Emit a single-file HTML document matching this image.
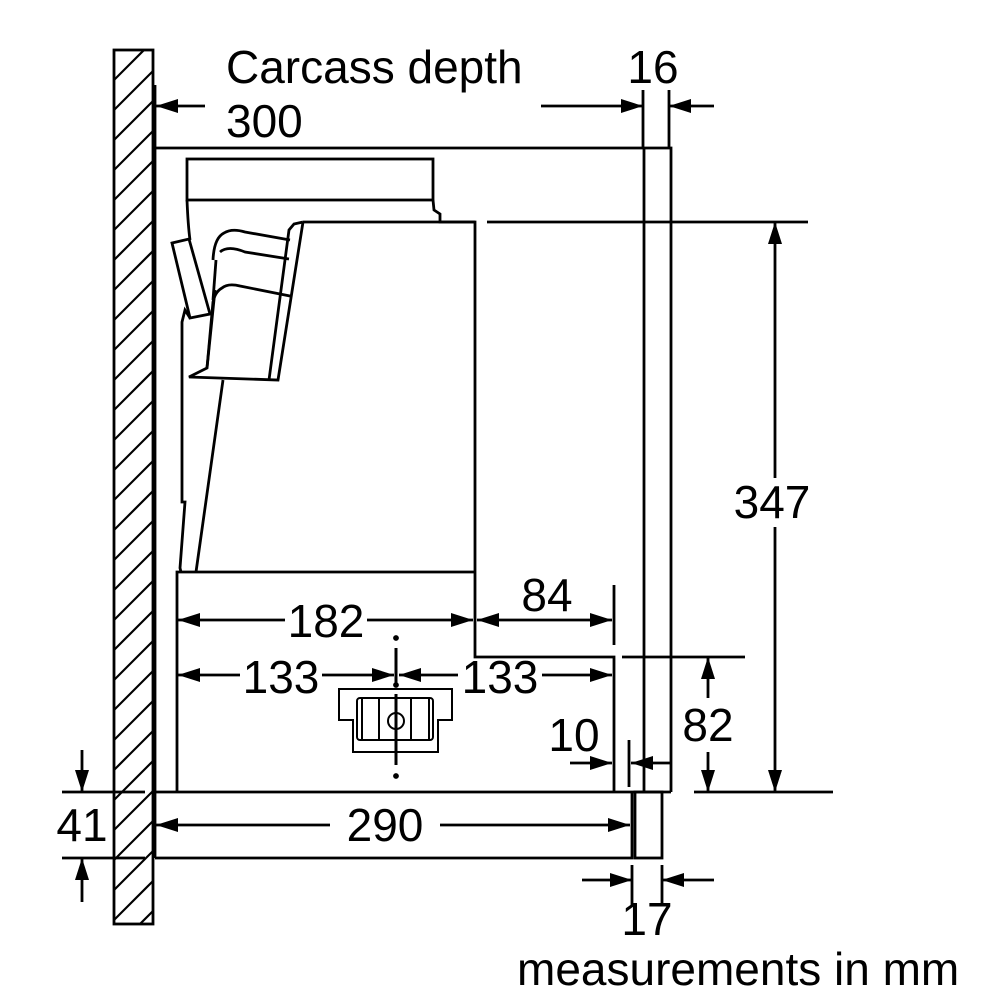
<!DOCTYPE html>
<html><head><meta charset="utf-8"><style>
html,body{margin:0;padding:0;background:#fff}
svg{display:block}
text{font-family:"Liberation Sans",sans-serif;fill:#000}
</style></head><body>
<svg width="1000" height="1000" viewBox="0 0 1000 1000" xmlns="http://www.w3.org/2000/svg">
<defs>
<marker id="a" viewBox="0 0 22 14" refX="22" refY="7" markerWidth="22" markerHeight="14" markerUnits="userSpaceOnUse" orient="auto"><path d="M0,0 L22,7 L0,14 Z" fill="#000"/></marker>
<clipPath id="wc"><rect x="114" y="50" width="39" height="874"/></clipPath>
</defs>
<g stroke="#000" fill="none" stroke-width="2.8">
<g clip-path="url(#wc)" stroke-width="2.2">
<path d="M114,80 l60,-60 M114,110 l60,-60 M114,140 l60,-60 M114,170 l60,-60 M114,200 l60,-60 M114,230 l60,-60 M114,260 l60,-60 M114,290 l60,-60 M114,320 l60,-60 M114,350 l60,-60 M114,380 l60,-60 M114,410 l60,-60 M114,440 l60,-60 M114,470 l60,-60 M114,500 l60,-60 M114,530 l60,-60 M114,560 l60,-60 M114,590 l60,-60 M114,620 l60,-60 M114,650 l60,-60 M114,680 l60,-60 M114,710 l60,-60 M114,740 l60,-60 M114,770 l60,-60 M114,800 l60,-60 M114,830 l60,-60 M114,860 l60,-60 M114,890 l60,-60 M114,920 l60,-60 M114,950 l60,-60"/>
</g>
<rect x="114" y="50" width="39" height="874"/>
<path d="M155,85 V858"/>
<path d="M155,148 H671 V792"/>
<path d="M644,148 V792"/>
<path d="M155,792 H671"/>
<path d="M155,858 H632 V792"/>
<rect x="635" y="792" width="27" height="66"/>
<rect x="187" y="159" width="246" height="41"/>
<path d="M433,200 L434,210 L440,214 L440,222 L475,222"/>
<path d="M303,222 H475 V572"/>
<path d="M177,792 V572 H475"/>
<path d="M475,572 V657 H614 V792"/>
<path d="M187,200 Q188,225 190,240"/>
<path d="M172,243 L189,239 L210,314 L190,318 Z"/>
<path d="M190,318 L185,310 L182,322 L182,502 L185,502 L180,568 L181,572"/>
<path d="M303,222 L294,224 L289,230 L269,380"/>
<path d="M303,222 L278,380 L189,377 L207,368 L213,302 Q215,292 222,288 Q228,283 240,286 L290,296"/>
<path d="M213,260 Q214,238 224,233 Q232,228 245,232 L290,240"/>
<path d="M207,368 L215,290"/>
<path d="M213,300 L216,260"/>
<path d="M220,252 Q228,245 245,252 L289,259"/>
<path d="M223,380 L196,572"/>
<path d="M339,689 H452 V720 H438 V752 H353 V720 H339 Z" stroke-width="2"/>
<rect x="357" y="698" width="76" height="42" rx="3" stroke-width="2"/>
<path d="M362,698 V740 M379,698 V740 M411,698 V740 M429,698 V740" stroke-width="2"/>
<circle cx="396" cy="721" r="8" stroke-width="2"/>
<path d="M396,648 V684 M396,694 V765" stroke-width="3"/>
<circle cx="396" cy="638" r="1.5" fill="#000"/><circle cx="396" cy="685" r="1.5" fill="#000"/><circle cx="396" cy="776" r="1.5" fill="#000"/>
<path d="M643,90 V148 M669,90 V148"/>
<path d="M541,106 H643" marker-end="url(#a)"/>
<path d="M714,106 H669" marker-end="url(#a)"/>
<path d="M205,106 H156" marker-end="url(#a)"/>
<path d="M487,222 H808"/>
<path d="M775,478 V222" marker-end="url(#a)"/>
<path d="M775,527 V792" marker-end="url(#a)"/>
<path d="M694,792 H833"/>
<path d="M622,657 H745"/>
<path d="M708,698 V657" marker-end="url(#a)"/>
<path d="M708,752 V792" marker-end="url(#a)"/>
<path d="M62,792 H145 M62,858 H145"/>
<path d="M82,750 V792" marker-end="url(#a)"/>
<path d="M82,902 V858" marker-end="url(#a)"/>
<path d="M330,825 H156" marker-end="url(#a)"/>
<path d="M440,825 H630" marker-end="url(#a)"/>
<path d="M632,865 V905 M662,865 V905"/>
<path d="M582,880 H632" marker-end="url(#a)"/>
<path d="M714,880 H662" marker-end="url(#a)"/>
<path d="M570,763 H612" marker-end="url(#a)"/>
<path d="M671,763 H631" marker-end="url(#a)"/>
<path d="M629,740 V787"/>
<path d="M285,620 H178" marker-end="url(#a)"/>
<path d="M367,620 H473" marker-end="url(#a)"/>
<path d="M520,620 H477" marker-end="url(#a)"/>
<path d="M520,620 H612" marker-end="url(#a)"/>
<path d="M614,585 V645"/>
<path d="M240,675 H178" marker-end="url(#a)"/>
<path d="M322,675 H394" marker-end="url(#a)"/>
<path d="M458,675 H399" marker-end="url(#a)"/>
<path d="M542,675 H612" marker-end="url(#a)"/>
</g>
<g font-size="46">
<text x="226" y="83">Carcass depth</text>
<text x="226" y="137">300</text>
<text x="653" y="83" text-anchor="middle">16</text>
<text x="772" y="518" text-anchor="middle">347</text>
<text x="708" y="741" text-anchor="middle">82</text>
<text x="82" y="841" text-anchor="middle">41</text>
<text x="385" y="841" text-anchor="middle">290</text>
<text x="647" y="935" text-anchor="middle">17</text>
<text x="574" y="751" text-anchor="middle">10</text>
<text x="326" y="637" text-anchor="middle">182</text>
<text x="547" y="611" text-anchor="middle">84</text>
<text x="281" y="693" text-anchor="middle">133</text>
<text x="500" y="693" text-anchor="middle">133</text>
<text x="517" y="985">measurements in mm</text>
</g>
</svg>
</body></html>
